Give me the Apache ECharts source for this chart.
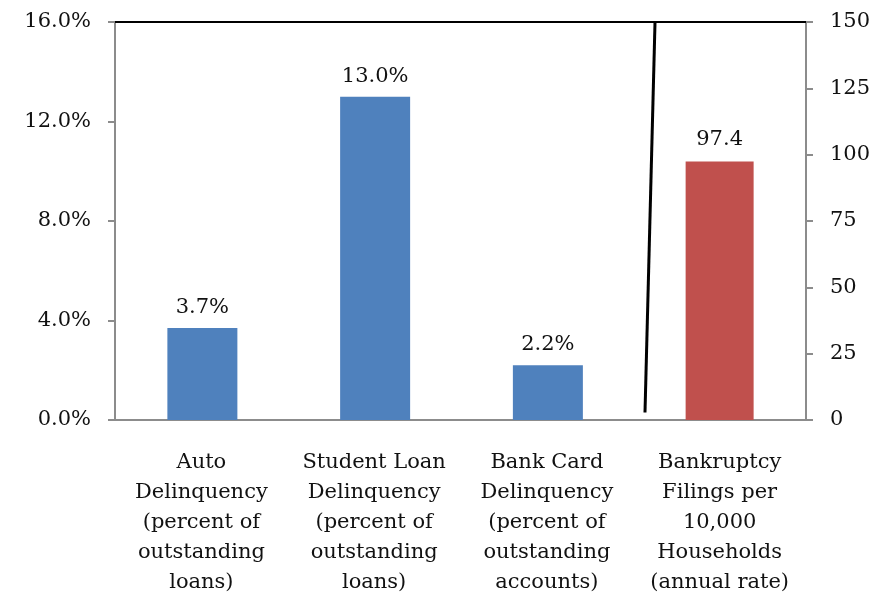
<!DOCTYPE html>
<html>
<head>
<meta charset="utf-8">
<script src="https://cdn.jsdelivr.net/npm/echarts@6/dist/echarts.min.js"></script>
<style>
  html, body { margin: 0; padding: 0; background: #fff; }
  #main { width: 890px; height: 598px; }
</style>
</head>
<body>
<div id="main"></div>
<script>
// categories along the bottom
const categories = [
  'Auto\nDelinquency\n(percent of\noutstanding\nloans)',
  'Student Loan\nDelinquency\n(percent of\noutstanding\nloans)',
  'Bank Card\nDelinquency\n(percent of\noutstanding\naccounts)',
  'Bankruptcy\nFilings per\n10,000\nHouseholds\n(annual rate)'
];
// delinquency rates, percent (left axis)
const delinquency = [3.7, 13.0, 2.2, null];
// bankruptcy filings per 10,000 households (right axis)
const bankruptcy = [null, null, null, 97.4];
// separator line between the two groups: [category position, left-axis value]
const separator = [[3.068, 0.3], [3.126, 16]];

const leftMax = 16, leftStep = 4;
const rightMax = 150, rightStep = 25;

const font = 'DejaVu Serif';
const fontSize = 21;
const axisGrey = '#8c8c8c';

const chart = echarts.init(document.getElementById('main'));

chart.setOption({
  animation: false,
  grid: { left: 115, right: 84, top: 22, bottom: 177 },
  xAxis: [
    {
      type: 'category',
      data: categories,
      axisLine: { lineStyle: { color: axisGrey, width: 2 } },
      axisTick: { inside: false, length: 8, lineStyle: { color: axisGrey, width: 2 } },
      axisLabel: {
        interval: 0, margin: 28,
        fontFamily: font, fontSize: fontSize, lineHeight: 30, color: '#111'
      }
    },
    {
      // hidden value axis used to place the separator line; its line is the top border
      type: 'value', position: 'top', min: 0, max: 4,
      axisLine: { show: true, onZero: false, lineStyle: { color: '#000', width: 2 } },
      axisTick: { show: false }, axisLabel: { show: false }, splitLine: { show: false }
    }
  ],
  yAxis: [
    {
      type: 'value', min: 0, max: leftMax, interval: leftStep,
      axisLine: { show: true, lineStyle: { color: axisGrey, width: 2 } },
      axisTick: { show: true, length: 7, lineStyle: { color: axisGrey, width: 2 } },
      splitLine: { show: false },
      axisLabel: {
        margin: 24, fontFamily: font, fontSize: fontSize, color: '#111',
        formatter: v => v.toFixed(1) + '%'
      }
    },
    {
      type: 'value', min: 0, max: rightMax, interval: rightStep, position: 'right',
      axisLine: { show: true, lineStyle: { color: axisGrey, width: 2 } },
      axisTick: { show: true, length: 7, lineStyle: { color: axisGrey, width: 2 } },
      splitLine: { show: false },
      axisLabel: { margin: 24, fontFamily: font, fontSize: fontSize, color: '#111' }
    }
  ],
  series: [
    {
      type: 'bar',
      data: delinquency,
      barWidth: 70,
      barGap: '-100%',
      itemStyle: { color: '#4f81bd' },
      label: {
        show: true, position: 'top', distance: 10,
        fontFamily: font, fontSize: fontSize, color: '#111',
        formatter: p => p.value.toFixed(1) + '%'
      }
    },
    {
      type: 'bar',
      data: bankruptcy,
      yAxisIndex: 1,
      barWidth: 68,
      barGap: '-100%',
      itemStyle: { color: '#c0504d' },
      label: {
        show: true, position: 'top', distance: 12,
        fontFamily: font, fontSize: fontSize, color: '#111',
        formatter: p => p.value.toFixed(1)
      }
    },
    {
      type: 'line',
      xAxisIndex: 1,
      yAxisIndex: 0,
      data: separator,
      symbol: 'none',
      lineStyle: { color: '#000', width: 3 },
      silent: true
    }
  ]
});
</script>
</body>
</html>
